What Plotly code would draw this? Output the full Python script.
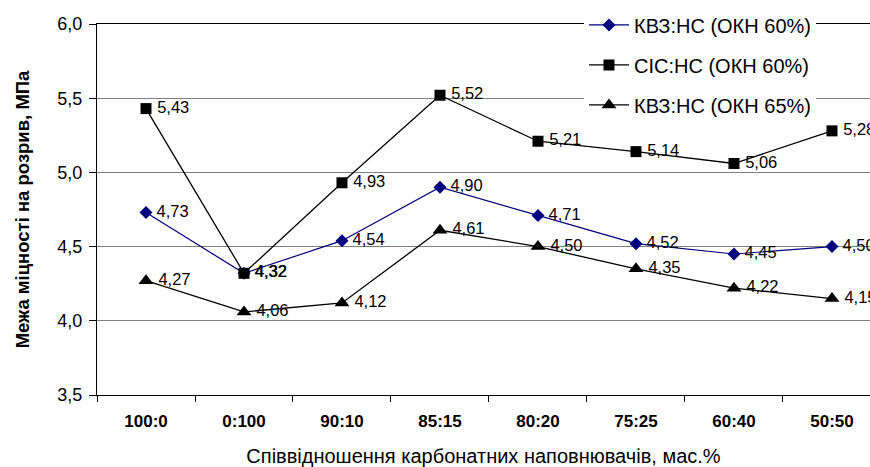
import plotly.graph_objects as go

# Filler ratio categories (x axis)
categories = ["100:0", "0:100", "90:10", "85:15", "80:20", "75:25", "60:40", "50:50"]

# Tensile strength, MPa
kvz_60 = [4.73, 4.32, 4.54, 4.90, 4.71, 4.52, 4.45, 4.50]
sis_60 = [5.43, 4.32, 4.93, 5.52, 5.21, 5.14, 5.06, 5.28]
kvz_65 = [4.27, 4.06, 4.12, 4.61, 4.50, 4.35, 4.22, 4.15]

series_names = ["КВЗ:НС (ОКН 60%)", "СІС:НС (ОКН 60%)", "КВЗ:НС (ОКН 65%)"]

y_ticks = [3.5, 4.0, 4.5, 5.0, 5.5, 6.0]

label_font = dict(family="Liberation Sans, Arial, sans-serif", size=16.5, color="black")

fig = go.Figure()

styles = [
    (kvz_60, "#000080", "diamond", 10, 1.2),
    (sis_60, "black", "square", 11, 1.3),
    (kvz_65, "black", "triangle-up", 13, 1.3),
]

for i, (vals, color, symbol, msize, lw) in enumerate(styles):
    fig.add_trace(go.Scatter(
        x=categories,
        y=vals,
        name=series_names[i],
        legendgroup=f"g{i}",
        mode="lines+markers+text",
        line=dict(color=color, width=lw),
        marker=dict(symbol=symbol, size=msize, color=color),
        text=["\u2009" + f"{v:.2f}".replace(".", ",") for v in vals],
        textposition="middle right",
        textfont=label_font,
        cliponaxis=True,
    ))

fig.update_layout(
    width=870,
    height=467,
    margin=dict(l=97, r=0, t=24, b=72),
    paper_bgcolor="white",
    plot_bgcolor="white",
    separators=", ",
    font=dict(family="Liberation Sans, Arial, sans-serif", color="black"),
    showlegend=True,
    legend=dict(
        x=0.63,
        y=1.05,
        xanchor="left",
        yanchor="top",
        bgcolor="white",
        borderwidth=0,
        font=dict(size=20, color="black"),
        tracegroupgap=11,
        itemwidth=40,
    ),
    xaxis=dict(
        type="category",
        range=[-0.5, 7.388],
        automargin=False,
        showline=True,
        linecolor="black",
        linewidth=1.3,
        mirror=True,
        showgrid=False,
        ticks="outside",
        tickson="boundaries",
        ticklen=6,
        tickcolor="black",
        tickfont=dict(size=17, family="Liberation Sans, Arial, sans-serif", weight="bold"),
        ticklabelstandoff=10,
        title=dict(
            text="Співвідношення карбонатних наповнювачів, мас.%",
            font=dict(size=20),
            standoff=25,
        ),
    ),
    yaxis=dict(
        range=[3.5, 6.0],
        tickvals=y_ticks,
        tickformat=".1f",
        automargin=False,
        showline=True,
        linecolor="black",
        linewidth=1.3,
        showgrid=True,
        gridcolor="#808080",
        gridwidth=1,
        zeroline=False,
        ticks="outside",
        ticklen=7,
        tickcolor="black",
        tickfont=dict(size=18),
        ticklabelstandoff=3,
        title=dict(
            text="Межа міцності на розрив, МПа",
            font=dict(size=18.5, weight="bold"),
            standoff=22,
        ),
    ),
)

fig.write_html("out.html")
